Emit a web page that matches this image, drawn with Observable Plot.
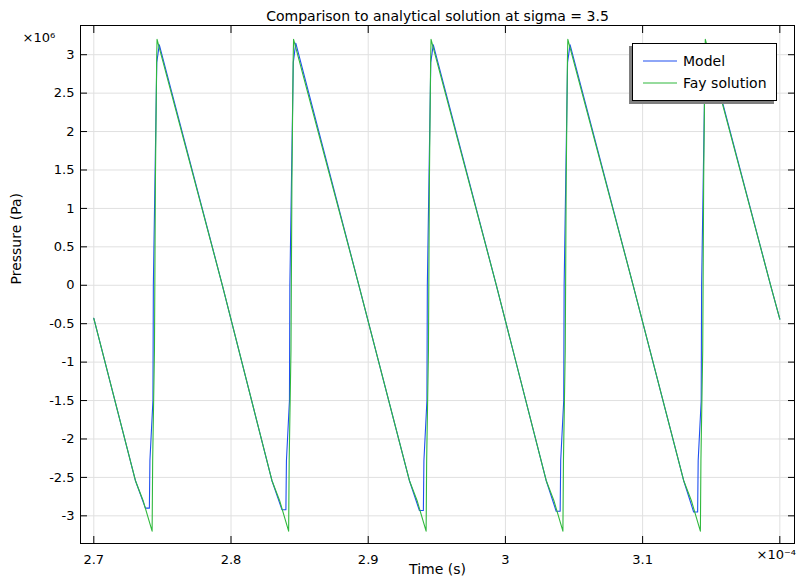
<!DOCTYPE html>
<html>
<head>
<meta charset="utf-8">
<script src="https://cdn.jsdelivr.net/npm/d3@7"></script>
<script src="https://cdn.jsdelivr.net/npm/@observablehq/plot@0.6"></script>
<style>
  html, body { margin: 0; padding: 0; background: #fff; }
  #wrap { position: relative; width: 797px; height: 584px; font-family: "DejaVu Sans", sans-serif; }
  #legend {
    position: absolute; left: 632px; top: 43px; width: 143px; height: 56px;
    background: #fff; border: 1px solid #000; box-shadow: -3px 3px 0 #7f7f7f;
    font-size: 14px; color: #000;
  }
  #legend .row { position: absolute; left: 10px; height: 16px; display: flex; align-items: center; }
  #legend .row svg { margin-right: 6px; }
</style>
</head>
<body>
<div id="wrap"></div>
<script>
// Time in units of 1e-4 s, pressure in units of 1e6 Pa.
const timeModel = [
  2.7000,
  2.7303, 2.7376, 2.7405, 2.7409, 2.7431, 2.7434, 2.7446, 2.7459, 2.7477, 2.7937,
  2.8298, 2.8371, 2.8400, 2.8404, 2.8426, 2.8429, 2.8441, 2.8454, 2.8472, 2.8932,
  2.9300, 2.9373, 2.9402, 2.9406, 2.9428, 2.9431, 2.9443, 2.9456, 2.9474, 2.9934,
  3.0297, 3.0370, 3.0399, 3.0403, 3.0425, 3.0428, 3.0440, 3.0453, 3.0471, 3.0931,
  3.1299, 3.1372, 3.1401, 3.1405, 3.1427, 3.1430, 3.1442, 3.1455, 3.1473, 3.1933,
  3.2000
];
const pressureModel = [
  -0.43,
  -2.54, -2.90, -2.90, -2.28, -1.50, 0.00, 1.40, 2.90, 3.13, 0.00,
  -2.54, -2.92, -2.92, -2.28, -1.50, 0.00, 1.40, 2.90, 3.15, 0.00,
  -2.54, -2.93, -2.93, -2.28, -1.50, 0.00, 1.40, 2.90, 3.13, 0.00,
  -2.54, -2.94, -2.94, -2.28, -1.50, 0.00, 1.40, 2.90, 3.13, 0.00,
  -2.54, -2.95, -2.95, -2.28, -1.50, 0.00, 1.40, 2.90, 3.12, 0.00,
  -0.44
];
const timeFay = [
  2.7000,
  2.7303, 2.7359, 2.7425, 2.7429, 2.7442, 2.7449, 2.7458, 2.7461, 2.7937,
  2.8298, 2.8354, 2.8420, 2.8424, 2.8437, 2.8444, 2.8453, 2.8456, 2.8932,
  2.9300, 2.9356, 2.9422, 2.9426, 2.9439, 2.9446, 2.9455, 2.9458, 2.9934,
  3.0297, 3.0353, 3.0419, 3.0423, 3.0436, 3.0443, 3.0452, 3.0455, 3.0931,
  3.1299, 3.1355, 3.1421, 3.1425, 3.1438, 3.1445, 3.1454, 3.1457, 3.1933,
  3.2000
];
const pressureFay = [
  -0.43,
  -2.54, -2.80, -3.20, -2.28, -0.85, 1.37, 2.93, 3.20, 0.00,
  -2.54, -2.80, -3.20, -2.28, -0.85, 1.37, 2.93, 3.20, 0.00,
  -2.54, -2.80, -3.20, -2.28, -0.85, 1.37, 2.93, 3.20, 0.00,
  -2.54, -2.80, -3.20, -2.28, -0.85, 1.37, 2.93, 3.20, 0.00,
  -2.54, -2.80, -3.20, -2.28, -0.85, 1.37, 2.93, 3.20, 0.00,
  -0.44
];

const xTicks = [2.7, 2.8, 2.9, 3.0, 3.1, 3.2];
const xTickLabels = ["2.7", "2.8", "2.9", "3", "3.1", ""];
const yTicks = [-3, -2.5, -2, -1.5, -1, -0.5, 0, 0.5, 1, 1.5, 2, 2.5, 3];
const yTickLabels = ["-3", "-2.5", "-2", "-1.5", "-1", "-0.5", "0", "0.5", "1", "1.5", "2", "2.5", "3"];

const seriesNames = ["Model", "Fay solution"];
const seriesColors = ["#1f4ef0", "#2fb83c"];
const titleText = "Comparison to analytical solution at sigma = 3.5";
const xLabel = "Time (s)";
const yLabel = "Pressure (Pa)";
const yExponent = "×10⁶";
const xExponent = "×10⁻⁴";

const modelRows = timeModel.map((t, i) => ({t, p: pressureModel[i]}));
const fayRows = timeFay.map((t, i) => ({t, p: pressureFay[i]}));
const xLabelOf = new Map(xTicks.map((v, i) => [v, xTickLabels[i]]));
const yLabelOf = new Map(yTicks.map((v, i) => [v, yTickLabels[i]]));

const gridColor = "#e0e0e0";

const chart = Plot.plot({
  width: 797,
  height: 584,
  marginLeft: 80,
  marginRight: 3,
  marginTop: 25,
  marginBottom: 41,
  style: {fontFamily: "DejaVu Sans, sans-serif", fontSize: "13px", color: "#000", background: "#fff", overflow: "visible"},
  x: {domain: [2.6903, 3.2107]},
  y: {domain: [-3.36, 3.38]},
  marks: [
    Plot.gridX(xTicks, {stroke: gridColor, strokeOpacity: 1}),
    Plot.gridY(yTicks, {stroke: gridColor, strokeOpacity: 1}),
    Plot.line(modelRows, {x: "t", y: "p", stroke: seriesColors[0], strokeWidth: 1.1}),
    Plot.line(fayRows, {x: "t", y: "p", stroke: seriesColors[1], strokeWidth: 1.1}),
    Plot.frame({stroke: "#000"}),
    // inward tick marks on all four sides
    Plot.axisX(xTicks, {anchor: "bottom", tickSize: -7, fill: "none", label: null}),
    Plot.axisX(xTicks, {anchor: "top", tickSize: -7, fill: "none", label: null}),
    Plot.axisY(yTicks, {anchor: "left", tickSize: -7, fill: "none", label: null}),
    Plot.axisY(yTicks, {anchor: "right", tickSize: -7, fill: "none", label: null}),
    // tick labels
    Plot.axisX(xTicks, {anchor: "bottom", tickSize: 0, tickPadding: 11, tickFormat: d => xLabelOf.get(d), label: null}),
    Plot.axisY(yTicks, {anchor: "left", tickSize: 0, tickPadding: 6, tickFormat: d => yLabelOf.get(d), label: null}),
    // title, axis titles and exponent annotations
    Plot.text([titleText], {text: d => d, frameAnchor: "top", dy: -14, fontSize: 14}),
    Plot.text([xLabel], {text: d => d, frameAnchor: "bottom", dy: 30, fontSize: 14}),
    Plot.text([yLabel], {text: d => d, frameAnchor: "left", dx: -64, rotate: -90, fontSize: 14}),
    Plot.text([yExponent], {text: d => d, frameAnchor: "top-left", dx: -58, dy: 7, textAnchor: "start", fontSize: 13}),
    Plot.text([xExponent], {text: d => d, frameAnchor: "bottom-right", dx: -38, dy: 15, textAnchor: "start", fontSize: 13})
  ]
});

const wrap = document.getElementById("wrap");
wrap.appendChild(chart);

// legend box
const legend = document.createElement("div");
legend.id = "legend";
seriesNames.forEach((name, i) => {
  const row = document.createElement("div");
  row.className = "row";
  row.style.top = (9 + i * 22) + "px";
  row.innerHTML = `<svg width="34" height="4"><line x1="0" x2="34" y1="2" y2="2" stroke="${seriesColors[i]}" stroke-width="1.2"/></svg><span>${name}</span>`;
  legend.appendChild(row);
});
wrap.appendChild(legend);
</script>
</body>
</html>
